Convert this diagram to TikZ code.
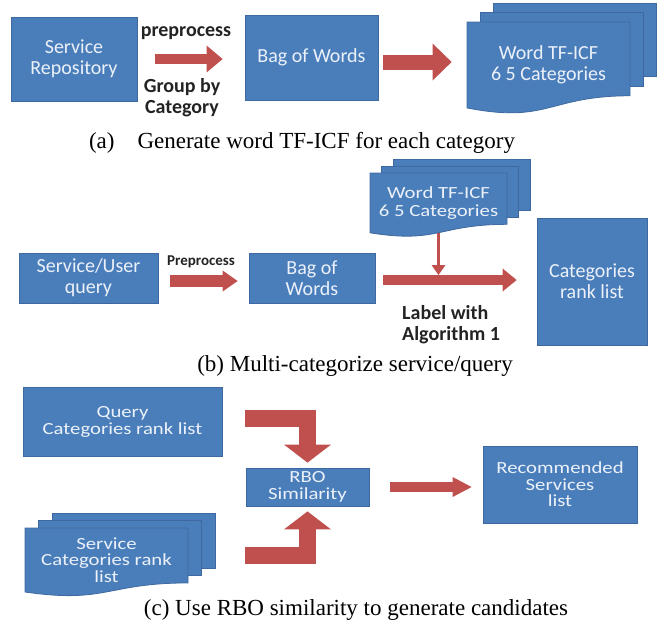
\documentclass[tikz,border=0pt]{standalone}
\usepackage{fontspec}
\setmainfont{Liberation Serif}
\newfontfamily\cbr{Carlito}
\newfontfamily\cbw[FakeStretch=1.22]{Carlito}
\usetikzlibrary{arrows.meta,calc}
\definecolor{cbx}{RGB}{74,126,187}
\definecolor{cbd}{RGB}{62,105,160}
\definecolor{ctx}{RGB}{236,241,249}
\definecolor{car}{RGB}{192,80,77}
\definecolor{clb}{RGB}{35,35,35}
\tikzset{
  procbox/.style={draw=cbd, line width=.8pt, fill=cbx, text=ctx, align=center, inner sep=0pt,
    font=\cbr\fontsize{20}{21}\selectfont},
  widebox/.style={procbox, font=\cbw\fontsize{17}{#1}\selectfont},
  lbl/.style={text=clb, align=center, inner sep=0pt, font=\cbr\bfseries\fontsize{20}{21}\selectfont},
  captxt/.style={inner sep=0pt, font=\fontsize{23}{27}\selectfont},
  blkarr/.style n args={3}{draw=car, line width=#1, -{Triangle[length=#3, width=#2, line width=0pt]}},
  bentarr/.style={blkarr={17pt}{47pt}{18pt}, line join=miter},
  thinarr/.style={draw=car, line width=2.5pt, -{Triangle[length=10pt, width=14pt, line width=0pt]}}
}
% stacked documents: name, left, top, width, height, dx, dy, font, text
\newcommand*{\docstack}[9]{%
  \begin{scope}[shift={(#2, #3)}]
    \foreach \k in {2, 1}
      \filldraw[fill=cbx, draw=cbd, line width=.8pt](\k*#6, -\k*#7) rectangle ++(#4, .802*#5);
    \filldraw[fill=cbx, draw=cbd, line width=.8pt](0, 0)--(#4, 0)--(#4, .802*#5)
      .. controls (.5*#4, .802*#5) and (.5*#4, 1.107*#5) .. (0, .934*#5)--cycle;
    \node[procbox, draw=none, fill=none, font=#8,
      minimum width=#4pt, minimum height=.7*#5pt](#1) at(.5*#4, .47*#5){#9};
    \coordinate(#1-b) at(.5*#4, .933*#5);
  \end{scope}}

\begin{document}
\begin{tikzpicture}[x=1pt, y=-1pt]
    \useasboundingbox(0, 0) rectangle (663, 624);
    % (a)
    \node[procbox, minimum width=126pt, minimum height=84pt](repo) at(74, 59){Service\\Repository};
    \node[procbox, minimum width=133pt, minimum height=85pt](bag) at(311.5, 57.5){Bag of Words};
    \docstack{tfa}{467}{22}{163}{92}{13}{9.5}{\cbr\fontsize{20}{21}\selectfont}{Word TF-ICF\\6 5 Categories}
    \node[lbl](pre) at(186, 33){preprocess};
    \node[lbl](grp) at(182, 98){Group by\\Category};
    \draw[blkarr={10pt}{27pt}{16pt}]($(repo.east)+(18, 0)$)--($(repo.east -| bag.west)+(-22, 0)$);
    \draw[blkarr={15pt}{37pt}{19pt}]($(bag.east)+(5, 4.5)$)--($(bag.east -| tfa.west)+(-15, 4.5)$);
    \node[captxt](capa) at(302, 143){(a)\quad Generate word TF-ICF for each category};
    % (b)
    \node[procbox, minimum width=139pt, minimum height=50pt](usr) at(88.5, 278){Service/User\\query};
    \node[procbox, minimum width=126pt, minimum height=50pt](bagb) at(312, 278){Bag of\\Words};
    \node[procbox, minimum width=110pt, minimum height=127pt](cats) at(592, 281.5){Categories\\rank list};
    \docstack{tfb}{370}{173}{137}{64}{11.5}{7}{\cbw\fontsize{17}{18}\selectfont}{Word TF-ICF\\6 5 Categories}
    \node[lbl, font=\cbr\bfseries\fontsize{15}{16}\selectfont](preb) at(201, 262){Preprocess};
    \node[lbl, align=left, anchor=west](alg) at(402, 325){Label with\\Algorithm 1};
    \draw[blkarr={12pt}{21pt}{15pt}]($(usr.east)+(12, 3)$)--($(usr.east -| bagb.west)+(-11, 3)$);
    \draw[blkarr={10pt}{23pt}{14pt}]($(bagb.east)+(8, 2)$)--($(bagb.east -| cats.west)+(-20, 2)$);
    \coordinate(mrg) at($(bagb.east)+(0, -3)$);
    \draw[thinarr](tfb-b)--(tfb-b |- mrg);
    \node[captxt](capb) at(355, 366){(b) Multi-categorize service/query};
    % (c)
    \node[widebox=17, minimum width=199pt, minimum height=69pt](qryc) at(122.5, 421.5){Query\\Categories rank list};
    \node[widebox=17, minimum width=123pt, minimum height=38pt](rbo) at(307.5, 487){RBO\\Similarity};
    \node[widebox=16.5, minimum width=154pt, minimum height=77pt](rec) at(560, 484.5){Recommended\\Services\\list};
    \docstack{svc}{25}{528}{163}{68.5}{13.5}{7.5}{\cbw\fontsize{17}{16.5}\selectfont}{Service\\Categories rank\\list}
    \draw[bentarr]($(qryc.east)+(23, -3)$)-|($(rbo.north)+(0, -5)$);
    \draw[bentarr]($(svc.east)+(57, -4.7)$)-|($(rbo.south)+(0, 5)$);
    \draw[blkarr={10pt}{20pt}{19pt}]($(rbo.east)+(21, 0)$)--($(rbo.east -| rec.west)+(-11, 0)$);
    \node[captxt](capc) at(356, 610){(c) Use RBO similarity to generate candidates};
\end{tikzpicture}
\end{document}
